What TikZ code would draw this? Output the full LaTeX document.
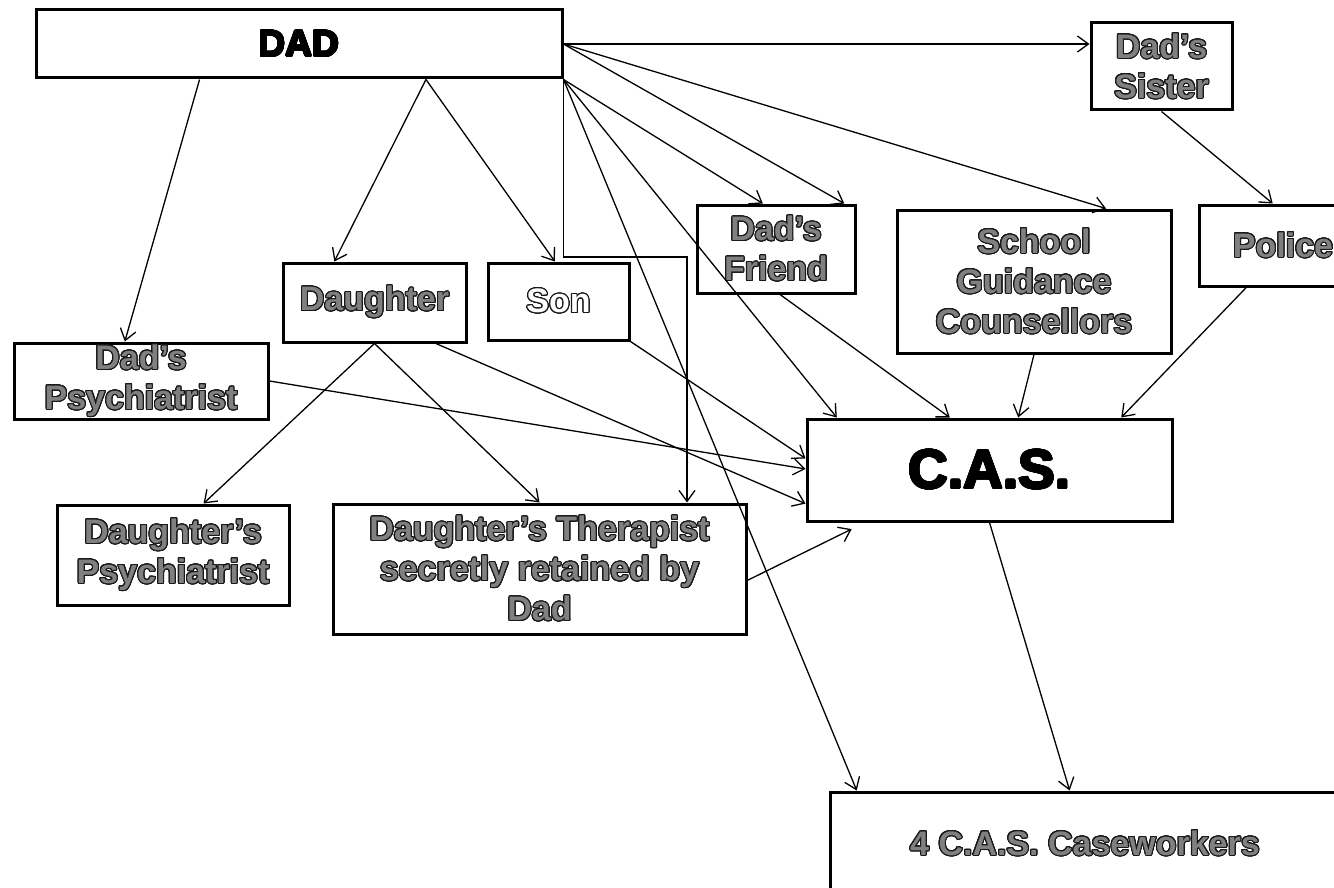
\documentclass[tikz,border=0pt]{standalone}
\usepackage{fontspec}
\setmainfont{Liberation Sans}
\usepackage{contour}
\contourlength{1.1pt}
\contournumber{24}
\usetikzlibrary{arrows.meta,calc}
\definecolor{tgray}{RGB}{128,128,128}
\definecolor{olc}{RGB}{25,25,25}
\newcommand\olt[1]{\contour{olc}{\textcolor{tgray}{#1}}}
\newcommand\olw[1]{\contour{olc}{\textcolor{white}{#1}}}
\newcommand\blk[1]{{\contourlength{0.8pt}\contour{black}{\textcolor{black}{#1}}}}
\begin{document}
\begin{tikzpicture}[x=1pt,y=-1pt,
  box/.style={draw=black, line width=3pt, fill=white, rectangle, inner sep=0pt,
    align=center, font=\fontsize{34}{40}\selectfont\bfseries},
  arr/.style={-{Straight Barb[length=11pt,width=16pt]}, line width=1.3pt}]
\clip (0,0) rectangle (1334,888);
\fill[white] (0,0) rectangle (1334,888);

% boxes
\node[box, minimum width=526, minimum height=68] (dad) at (299,44)
  {\fontsize{37}{40}\selectfont\blk{DAD}};
\node[box, minimum width=141, minimum height=87] (sister) at (1161.5,66.5)
  {\olt{Dad’s}\\\olt{Sister}};
\node[box, minimum width=158, minimum height=88] (friend) at (776,249)
  {\olt{Dad’s}\\\olt{Friend}};
\node[box, minimum width=274, minimum height=143] (school) at (1034,281.5)
  {\olt{School}\\\olt{Guidance}\\\olt{Counsellors}};
\node[box, minimum width=168, minimum height=81] (police) at (1283,245.5)
  {\olt{Police}};
\node[box, minimum width=183, minimum height=79] (daughter) at (374.5,302.5)
  {\olt{Daughter}};
\node[box, minimum width=141, minimum height=77] (son) at (558.5,301.5)
  {\olw{Son}};
\node[box, minimum width=254, minimum height=76] (dpsy) at (141,381)
  {\olt{Dad’s}\\\olt{Psychiatrist}};
\node[box, minimum width=365, minimum height=102] (cas) at (989.5,470)
  {\fontsize{55}{58}\selectfont\blk{C.A.S.}};
\node[box, minimum width=232, minimum height=100] (dtpsy) at (173,555)
  {\olt{Daughter’s}\\\olt{Psychiatrist}};
\node[box, minimum width=413, minimum height=130] (ther) at (539.5,569)
  {\olt{Daughter’s Therapist}\\\olt{secretly retained by}\\\olt{Dad}};
\node[box, minimum width=510, minimum height=103] (workers) at (1085,843.5)
  {\olt{4 C.A.S. Caseworkers}};

% connectors from DAD
\draw[arr] (dad.east) -- (dad.east -| sister.west);
\draw[arr] (dad.east) -- ($(friend.north west)!0.924!(friend.north east)$);
\draw[arr] (dad.east) -- ($(school.north west)!0.76!(school.north east)$);
\draw[arr] ($(dad.south west)!0.312!(dad.south east)$) -- ($(dpsy.north west)!0.437!(dpsy.north east)$);
\draw[arr] ($(dad.south west)!0.74!(dad.south east)$) -- ($(daughter.north west)!0.284!(daughter.north east)$);
\draw[arr] ($(dad.south west)!0.74!(dad.south east)$) -- ($(son.north west)!0.475!(son.north east)$);
\draw[arr] (dad.south east) -- ($(friend.north west)!0.418!(friend.north east)$);
\draw[arr] (dad.south east) -- ($(cas.north west)!0.085!(cas.north east)$);
\draw[arr] (dad.south east) -- ($(workers.north west)!0.055!(workers.north east)$);
\coordinate (elb) at (687,257);
\draw[arr] (dad.south east) |- (elb) -- (elb |- ther.north);

% other connectors
\draw[arr] (sister.south) -- ($(police.north west)!0.44!(police.north east)$);
\draw[arr] ($(police.south west)!0.285!(police.south east)$) -- ($(cas.north west)!0.858!(cas.north east)$);
\draw[arr] (school.south) -- ($(cas.north west)!0.578!(cas.north east)$);
\draw[arr] ($(friend.south west)!0.525!(friend.south east)$) -- ($(cas.north west)!0.392!(cas.north east)$);
\draw[arr] (son.south east) -- ($(cas.north west)!0.39!(cas.south west)$);
\draw[arr] (dpsy.east) -- ($(cas.north west)!0.49!(cas.south west)$);
\draw[arr] ($(daughter.south west)!0.83!(daughter.south east)$) -- ($(cas.north west)!0.82!(cas.south west)$);
\draw[arr] (daughter.south) -- ($(dtpsy.north west)!0.63!(dtpsy.north east)$);
\draw[arr] (daughter.south) -- (ther.north);
\draw[arr, shorten >=15pt] ($(ther.north east)!0.585!(ther.south east)$) -- ($(cas.south west)!0.162!(cas.south east)$);
\draw[arr] (cas.south) -- ($(workers.north west)!0.47!(workers.north east)$);
\end{tikzpicture}
\end{document}
